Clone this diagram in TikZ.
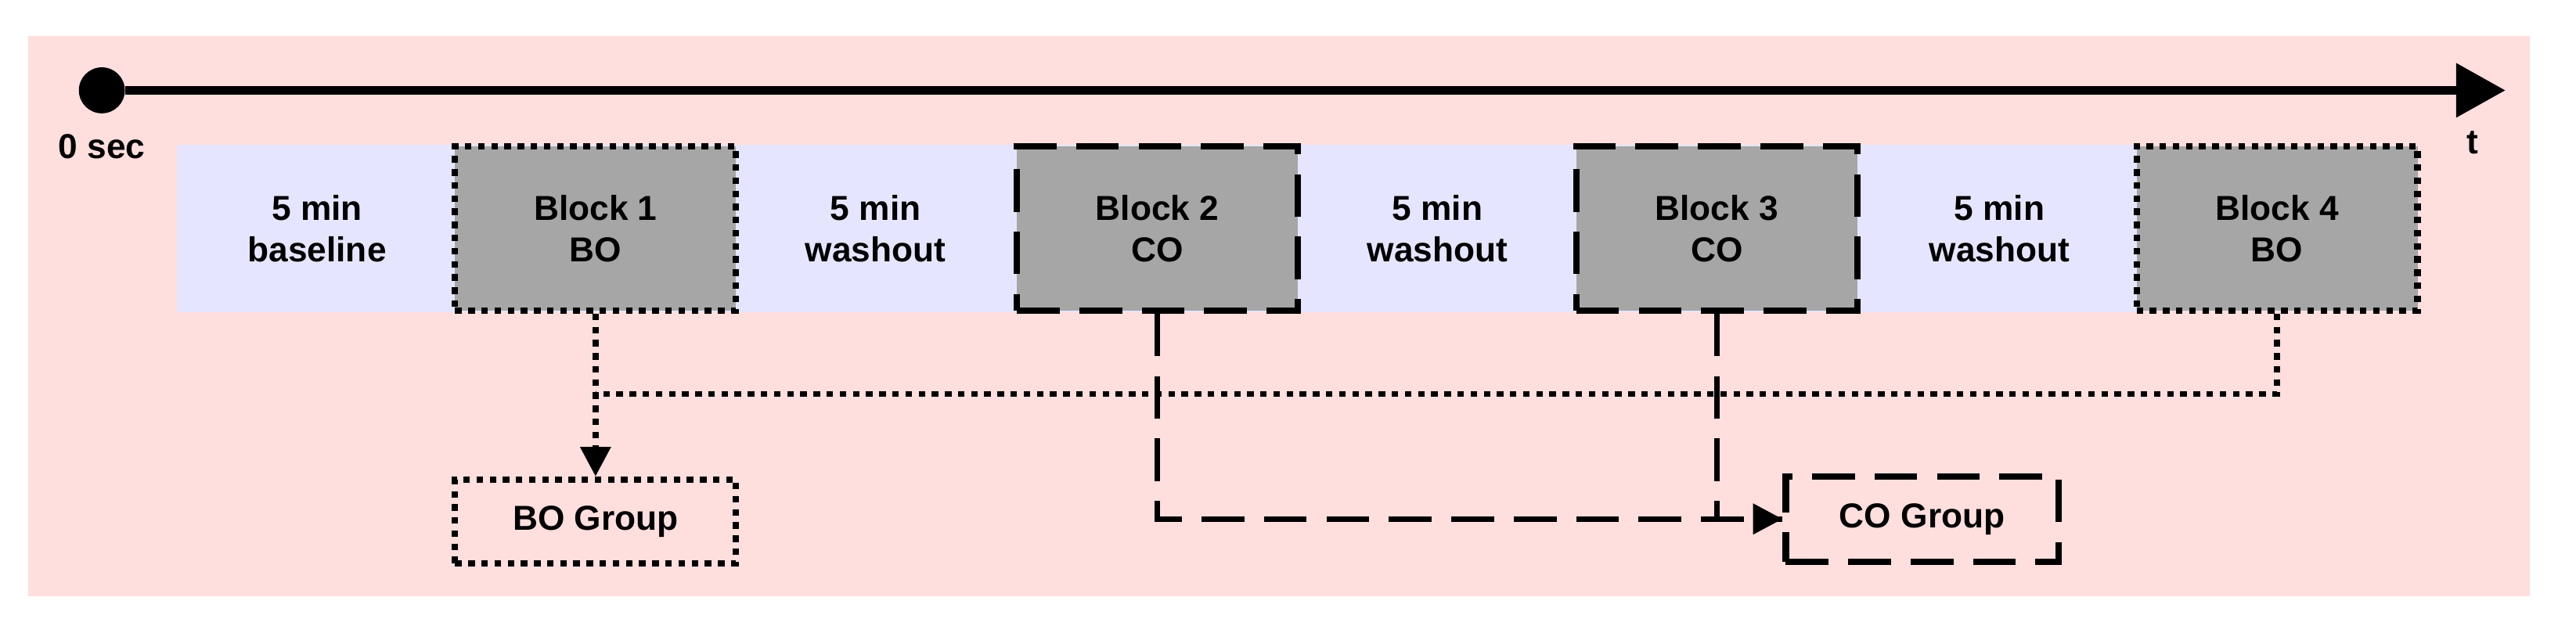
\documentclass[tikz,border=0pt]{standalone}
\usepackage{fontspec}
\setmainfont{Liberation Sans}
\usetikzlibrary{arrows.meta}
\begin{document}
\begin{tikzpicture}[x=0.05cm,y=-0.05cm,
  txt/.style={font=\fontsize{30}{36}\selectfont\bfseries, align=center},
  blk/.style={draw=black, fill=gray!70, line width=5.5pt, minimum width=171*0.05cm, minimum height=100*0.05cm, inner sep=0pt, txt},
  dotb/.style={dash pattern=on 0.2cm off 0.2cm},
  dashb/.style={dash pattern=on 1.3cm off 0.6cm},
  wash/.style={fill=blue!10!white, draw=none, minimum width=171*0.05cm, minimum height=100*0.05cm, inner sep=0pt, txt}]
\useasboundingbox (0,0) rectangle (1568,381);
\fill[red!13!white] (17,22) rectangle (1540,363);
\fill[blue!10!white] (108,88) rectangle (1300,190);
\node[circle, fill=black, minimum size=28*0.05cm, inner sep=0pt] (dot) at (62,55) {};
\coordinate (tend) at (1525,55);
\draw[line width=7pt, -{Triangle[length=1.5cm,width=1.6cm]}] (dot) -- (tend);
\node[txt] (zero) at (62,89) {0 sec};
\node[txt] (t) at (1505,87) {t};
\node[wash] (w0) at (193,139) {5 min\\baseline};
\node[wash] (w1) at (533,139) {5 min\\washout};
\node[wash] (w2) at (875,139) {5 min\\washout};
\node[wash] (w3) at (1217,139) {5 min\\washout};
\node[blk, dotb] (b1) at (362.5,139) {Block 1\\BO};
\node[blk, dashb] (b2) at (704.5,139) {Block 2\\CO};
\node[blk, dashb] (b3) at (1045,139) {Block 3\\CO};
\node[blk, dotb] (b4) at (1386,139) {Block 4\\BO};
\node[draw, line width=5.5pt, dotb, minimum width=171*0.05cm, minimum height=51*0.05cm, txt] (bog) at (362.5,317.5) {BO Group};
\node[draw, line width=5.5pt, dashb, minimum width=166*0.05cm, minimum height=52*0.05cm, txt] (cog) at (1170,316) {CO Group};
\draw[line width=5pt, dotb, -{Triangle[length=0.9cm,width=0.9cm]}] (b1.south) -- (bog.north);
\draw[line width=5pt, dotb] (b4.south) |- (b1.south |- 0,240);
\draw[line width=5pt, dashb, -{Triangle[length=0.9cm,width=0.9cm]}] (b2.south) |- (cog.west);
\draw[line width=5pt, dashb] (b3.south) -- (b3.south |- cog.west) -- (cog.west);
\end{tikzpicture}
\end{document}
